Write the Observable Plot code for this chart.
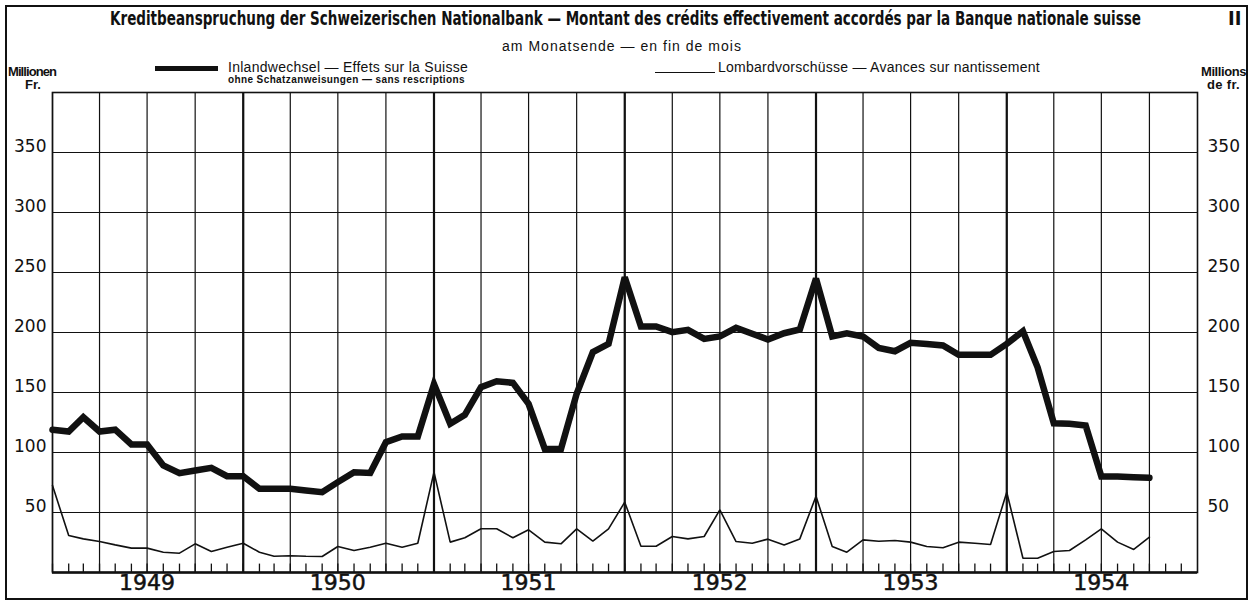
<!DOCTYPE html>
<html><head><meta charset="utf-8">
<script src="https://cdn.jsdelivr.net/npm/d3@7"></script>
<script src="https://cdn.jsdelivr.net/npm/@observablehq/plot@0.6"></script>
<style>
body{margin:0;background:#fff;}
#wrap{position:relative;width:1256px;height:605px;overflow:hidden;font-family:"Liberation Sans",Arial,sans-serif;color:#111;background:#fff;}
#wrap svg{position:absolute;left:0;top:0;}
.abs{position:absolute;white-space:nowrap;line-height:1;}
</style></head><body><div id="wrap"></div>
<script>
// ---- data (month-end values, Dec 1948 .. Sep 1954), millions of francs ----
const inland = [119,117.5,129.4,117.5,119,106.7,106.7,89.2,82.8,85,87.2,80.3,
  80.3,69.7,69.7,69.7,68.3,66.9,75.3,83.6,83,108.6,113.3,113.3,
  157,124,131.4,154.4,159.4,158,140.6,103,103,149,183.6,190.5,
  246,205,205,200.3,202.2,194.7,196.7,203.9,198.9,194.2,199.4,202.5,
  245,196.7,199.4,196.7,187.2,184.4,191.4,190.5,189.2,181.4,181.4,181.4,
  190.5,201.1,171,124.4,124,122.5,80,80,79.4,78.9];
const lombard = [72.5,30.8,28,25.8,23,20.3,20.3,16.9,16.1,23.9,17.5,21.1,
  24.4,16.9,13.6,14,13.6,13.3,21.7,18.3,21.1,24.4,21.1,24.4,
  83.6,25.3,28.9,36.4,36.4,28.9,35.6,25.3,23.9,36.4,26.1,36.4,
  58.6,21.9,21.9,30,28,30,52.2,25.8,24.4,27.8,23,28,
  63.5,21.7,16.9,27.2,26.1,26.7,25.3,21.7,20.6,25.3,24.4,23.3,
  66.9,11.9,11.9,17.5,18.3,27.2,36.4,25.3,19.2,29.4];
const years = [1949,1950,1951,1952,1953,1954];
const yTicks = [50,100,150,200,250,300,350];
const titleText = "Kreditbeanspruchung der Schweizerischen Nationalbank — Montant des crédits effectivement accordés par la Banque nationale suisse";
const subtitleText = "am Monatsende — en fin de mois";
const legendInland = "Inlandwechsel — Effets sur la Suisse";
const legendInland2 = "ohne Schatzanweisungen — sans rescriptions";
const legendLombard = "Lombardvorschüsse — Avances sur nantissement";

// month-end points placed at the boundary after each month (Dec 1948 end = 1 Jan 1949)
const periods = d3.utcMonth.range(new Date(Date.UTC(1949,0,1)), new Date(Date.UTC(1954,9,2)));
const rows = periods.map((d,i)=>({date:d, inland:inland[i], lombard:lombard[i]}));
const allMonths = d3.utcMonth.range(new Date(Date.UTC(1949,0,1)), new Date(Date.UTC(1955,0,1)));
const quarterLines = allMonths.filter(d=>d.getUTCMonth()%3===0);
const yearLines = years.slice(1).map(y=>new Date(Date.UTC(y,0,1)));

const chart = Plot.plot({
  width:1256, height:605,
  marginLeft:52, marginRight:59, marginTop:92, marginBottom:33,
  style:{fontFamily:"'DejaVu Sans', sans-serif", fontSize:"16px", color:"#111", background:"transparent"},
  x:{type:"utc", domain:[new Date(Date.UTC(1949,0,1)), new Date(Date.UTC(1955,0,1))], axis:null},
  y:{domain:[0,400], axis:null},
  marks:[
    Plot.ruleY(yTicks,{stroke:"#111", strokeWidth:1.2}),
    Plot.ruleX(quarterLines,{stroke:"#111", strokeWidth:1.2}),
    Plot.ruleX(yearLines,{stroke:"#111", strokeWidth:2.2}),
    Plot.ruleX(allMonths,{y1:0, y2:7, stroke:"#111", strokeWidth:1.3}),
    Plot.frame({stroke:"#111", strokeWidth:1.6}),
    Plot.ruleY([0],{stroke:"#111", strokeWidth:2.6}),
    Plot.text(yTicks,{y:d=>d, text:d=>String(d), frameAnchor:"left", textAnchor:"end", dx:-6, dy:-6, fontSize:17, fill:"#111"}),
    Plot.text(yTicks,{y:d=>d, text:d=>String(d), frameAnchor:"right", textAnchor:"start", dx:10, dy:-6, fontSize:17, fill:"#111"}),
    Plot.text(years,{x:d=>new Date(Date.UTC(d,6,1)), text:d=>String(d), frameAnchor:"bottom", dy:17, fontSize:22, fontWeight:"500", stroke:"#111", strokeWidth:0.5, fill:"#111"}),
    Plot.line(rows,{x:"date", y:"lombard", stroke:"#111", strokeWidth:1.6, strokeLinejoin:"miter"}),
    Plot.line(rows,{x:"date", y:"inland", stroke:"#111", strokeWidth:6.5, strokeLinejoin:"miter", strokeMiterlimit:3})
  ]
});
const wrap = document.getElementById("wrap");
wrap.appendChild(chart);

function addText(txt, opts){
  const el = document.createElement("div");
  el.className = "abs";
  el.textContent = txt;
  Object.assign(el.style, {left:opts.left+"px", top:(opts.cy - opts.size/2)+"px", fontSize:opts.size+"px",
    fontWeight:opts.weight||"normal", fontFamily:opts.family||"'Liberation Sans', Arial, sans-serif"});
  wrap.appendChild(el);
  if (opts.width){
    const w = el.getBoundingClientRect().width;
    if (opts.scale){
      el.style.transformOrigin = "0 50%";
      el.style.transform = `scaleX(${opts.width/w})`;
    } else {
      el.style.letterSpacing = ((opts.width - w)/txt.length)+"px";
    }
  }
  return el;
}
function addBox(l,t,w,h,extra){
  const el=document.createElement("div");
  Object.assign(el.style,{position:"absolute",left:l+"px",top:t+"px",width:w+"px",height:h+"px"},extra||{});
  wrap.appendChild(el);
}
// outer frame
addBox(5,5,1243,595,{border:"2px solid #111",boxSizing:"border-box"});
// title / subtitle
addText(titleText,{left:110, cy:18, size:20, weight:"bold", family:"'Liberation Sans Narrow','DejaVu Sans Condensed','DejaVu Sans',sans-serif", width:1031, scale:true});
addText("II",{left:1228, cy:18, size:20, weight:"bold", family:"'DejaVu Sans Condensed','DejaVu Sans',sans-serif"});
addText(subtitleText,{left:502, cy:46, size:14, width:240});
// legend
addBox(155,66,63,5,{background:"#111"});
addText(legendInland,{left:228, cy:67, size:14, width:240});
addText(legendInland2,{left:228, cy:80, size:10, weight:"bold", width:237});
addBox(655,71.5,60,1.5,{background:"#111"});
addText(legendLombard,{left:718, cy:67, size:14, width:322});
// units
addText("Millionen",{left:8, cy:71, size:13, weight:"bold", width:48});
addText("Fr.",{left:25, cy:84, size:13, weight:"bold", width:16});
addText("Millions",{left:1201, cy:71, size:13, weight:"bold", width:45});
addText("de fr.",{left:1207, cy:84, size:13, weight:"bold", width:33});
</script>
</body></html>
